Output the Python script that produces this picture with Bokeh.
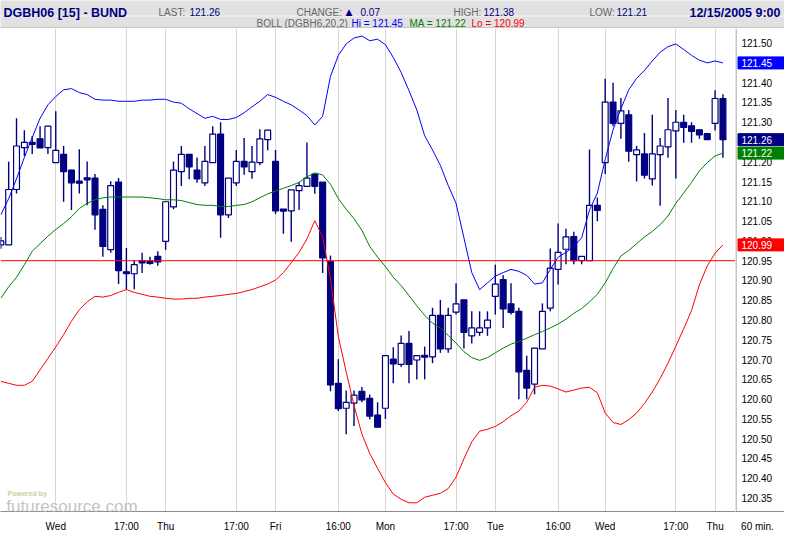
from bokeh.plotting import figure
from bokeh.models import Range1d, FixedTicker, Label, Span, ColumnDataSource
from bokeh.layouts import column, row
from bokeh.embed import file_html
from bokeh.resources import INLINE
from bokeh.core.properties import value

# ---------------- data ----------------
symbol = "DGBH06 [15] - BUND"
timestamp = "12/15/2005 9:00"
change_value = 0.07
day_start_bar = 91

opens = [120.99, 120.99, 121.13, 121.236, 121.248, 121.258, 121.236, 121.198, 121.219, 121.179,
         121.150, 121.158, 121.159, 121.080, 120.978, 121.149, 120.921, 120.917, 120.948, 120.947,
         120.961, 120.999, 121.086, 121.175, 121.219, 121.179, 121.147, 121.198, 121.270, 121.066,
         121.147, 121.201, 121.175, 121.198, 121.256, 121.201, 121.080, 121.076, 121.127, 121.138,
         121.169, 121.149, 120.948, 120.640, 120.577, 120.590, 120.620, 120.602, 120.560, 120.577,
         120.701, 120.688, 120.741, 120.699, 120.710, 120.707, 120.812, 120.727, 120.820, 120.851,
         120.760, 120.769, 120.780, 120.860, 120.902, 120.841, 120.822, 120.673, 120.638, 120.727,
         120.830, 120.928, 120.979, 121.011, 120.950, 120.950, 121.090, 121.198, 121.351, 121.297,
         121.319, 121.218, 121.220, 121.157, 121.218, 121.238, 121.278, 121.300, 121.291, 121.281,
         121.271, 121.297, 121.360]
highs = [121.01, 121.20, 121.31, 121.28, 121.265, 121.29, 121.29, 121.328, 121.240, 121.18,
         121.232, 121.201, 121.169, 121.09, 121.151, 121.159, 120.982, 120.95, 120.970, 120.96,
         120.974, 121.10, 121.201, 121.240, 121.219, 121.211, 121.240, 121.290, 121.300, 121.159,
         121.230, 121.260, 121.240, 121.282, 121.280, 121.230, 121.080, 121.129, 121.149, 121.249,
         121.169, 121.149, 120.963, 120.701, 120.622, 120.622, 120.631, 120.612, 120.592, 120.710,
         120.731, 120.761, 120.772, 120.710, 120.733, 120.831, 120.851, 120.831, 120.893, 120.851,
         120.822, 120.822, 120.822, 120.940, 120.913, 120.893, 120.831, 120.710, 120.729, 120.842,
         120.981, 121.044, 121.031, 121.023, 120.961, 121.231, 121.11, 121.410, 121.400, 121.361,
         121.331, 121.240, 121.273, 121.319, 121.260, 121.361, 121.331, 121.319, 121.300, 121.281,
         121.271, 121.381, 121.371]
lows = [120.98, 120.99, 121.12, 121.215, 121.22, 121.235, 121.22, 121.198, 121.099, 121.078,
        121.120, 121.090, 121.028, 120.96, 120.970, 120.891, 120.877, 120.878, 120.919, 120.94,
        120.937, 120.978, 121.08, 121.139, 121.156, 121.147, 121.139, 121.198, 121.008, 121.058,
        121.139, 121.167, 121.157, 121.191, 121.229, 121.068, 121.018, 120.998, 121.078, 121.138,
        121.119, 120.919, 120.620, 120.570, 120.511, 120.532, 120.592, 120.549, 120.529, 120.550,
        120.640, 120.681, 120.640, 120.650, 120.650, 120.691, 120.717, 120.717, 120.814, 120.728,
        120.741, 120.760, 120.760, 120.814, 120.780, 120.814, 120.600, 120.600, 120.612, 120.727,
        120.822, 120.890, 120.941, 120.941, 120.941, 120.950, 121.050, 121.169, 121.29, 121.258,
        121.200, 121.150, 121.158, 121.140, 121.089, 121.210, 121.158, 121.248, 121.248, 121.258,
        121.256, 121.279, 121.210]
closes = [121.00, 121.13, 121.24, 121.249, 121.245, 121.235, 121.29, 121.229, 121.175, 121.147,
          121.147, 121.156, 121.066, 120.986, 121.140, 120.925, 120.918, 120.940, 120.946, 120.945,
          120.947, 121.099, 121.179, 121.219, 121.187, 121.157, 121.201, 121.270, 121.066, 121.159,
          121.201, 121.187, 121.199, 121.258, 121.280, 121.076, 121.076, 121.129, 121.140, 121.159,
          121.138, 120.957, 120.636, 120.576, 120.592, 120.610, 120.598, 120.557, 120.529, 120.710,
          120.689, 120.741, 120.688, 120.710, 120.707, 120.812, 120.727, 120.812, 120.841, 120.769,
          120.780, 120.780, 120.800, 120.891, 120.828, 120.819, 120.669, 120.628, 120.729, 120.822,
          120.931, 120.971, 121.010, 120.950, 120.961, 121.090, 121.077, 121.351, 121.297, 121.329,
          121.227, 121.230, 121.166, 121.220, 121.240, 121.281, 121.300, 121.287, 121.277, 121.268,
          121.256, 121.360, 121.256]

boll_hi = [121.066, 121.107, 121.157, 121.211, 121.261, 121.310, 121.344, 121.365, 121.382, 121.385,
           121.375, 121.370, 121.358, 121.356, 121.356, 121.353, 121.353, 121.353, 121.356, 121.356,
           121.358, 121.358, 121.351, 121.348, 121.334, 121.322, 121.310, 121.315, 121.307, 121.307,
           121.312, 121.324, 121.339, 121.353, 121.370, 121.363, 121.353, 121.344, 121.331, 121.317,
           121.293, 121.315, 121.416, 121.469, 121.498, 121.513, 121.518, 121.506, 121.510, 121.496,
           121.464, 121.426, 121.380, 121.331, 121.266, 121.230, 121.191, 121.140, 121.095, 121.008,
           120.920, 120.877, 120.894, 120.911, 120.920, 120.928, 120.923, 120.913, 120.891, 120.894,
           120.928, 120.959, 120.971, 120.986, 121.008, 121.078, 121.121, 121.206, 121.281, 121.334,
           121.382, 121.411, 121.431, 121.455, 121.477, 121.491, 121.498, 121.484, 121.469, 121.457,
           121.450, 121.455, 121.450]
boll_ma = [120.855, 120.884, 120.908, 120.940, 120.974, 120.993, 121.012, 121.029, 121.044, 121.061,
           121.082, 121.095, 121.104, 121.109, 121.111, 121.111, 121.111, 121.111, 121.111, 121.109,
           121.107, 121.104, 121.104, 121.102, 121.097, 121.092, 121.090, 121.090, 121.087, 121.087,
           121.090, 121.092, 121.099, 121.109, 121.119, 121.126, 121.133, 121.140, 121.148, 121.162,
           121.172, 121.167, 121.143, 121.107, 121.080, 121.056, 121.027, 120.986, 120.959, 120.935,
           120.908, 120.887, 120.862, 120.836, 120.812, 120.792, 120.780, 120.761, 120.742, 120.720,
           120.705, 120.698, 120.705, 120.717, 120.729, 120.739, 120.746, 120.754, 120.763, 120.771,
           120.780, 120.790, 120.802, 120.817, 120.829, 120.846, 120.865, 120.894, 120.930, 120.962,
           120.976, 120.993, 121.010, 121.024, 121.041, 121.063, 121.095, 121.121, 121.148, 121.177,
           121.198, 121.215, 121.222]
boll_lo = [120.645, 120.640, 120.635, 120.635, 120.645, 120.674, 120.703, 120.732, 120.763, 120.797,
           120.826, 120.846, 120.860, 120.858, 120.862, 120.870, 120.877, 120.870, 120.865, 120.860,
           120.858, 120.855, 120.853, 120.853, 120.855, 120.855, 120.858, 120.860, 120.862, 120.865,
           120.867, 120.872, 120.877, 120.884, 120.891, 120.901, 120.920, 120.945, 120.971, 121.005,
           121.051, 121.010, 120.904, 120.758, 120.669, 120.584, 120.512, 120.463, 120.425, 120.389,
           120.360, 120.347, 120.338, 120.338, 120.352, 120.357, 120.362, 120.374, 120.403, 120.449,
           120.492, 120.519, 120.524, 120.531, 120.543, 120.558, 120.570, 120.592, 120.630, 120.635,
           120.633, 120.626, 120.618, 120.623, 120.628, 120.630, 120.616, 120.565, 120.541, 120.536,
           120.548, 120.565, 120.589, 120.618, 120.652, 120.691, 120.734, 120.778, 120.824, 120.889,
           120.937, 120.969, 120.990]

x_tick_bars = [7, 16, 21, 30, 35, 43, 49, 58, 63, 71, 77, 86, 91]
x_tick_labels = ["Wed", "17:00", "Thu", "17:00", "Fri", "16:00", "Mon", "17:00", "Tue", "16:00", "Wed", "17:00", "Thu"]
y_ticks = [120.35, 120.40, 120.45, 120.50, 120.55, 120.60, 120.65, 120.70, 120.75, 120.80, 120.85, 120.90,
           120.95, 121.00, 121.05, 121.10, 121.15, 121.20, 121.25, 121.30, 121.35, 121.40, 121.45, 121.50]
ref_level = 120.95
interval_label = "60 min."

# ---------------- styles ----------------
NAVY = "#000080"
BLUE = "#0000ff"
GREEN = "#008000"
RED = "#ff0000"
GRAY_TXT = "#666666"
HEAD_BG = "#e1e1e1"
GRID = "#d6d6d6"
AXIS = "#8c8c8c"
FONT = "Liberation Sans"
W = 784
MAIN_W = 735
SIDE_W = W - MAIN_W
HEAD_H = 28
MAIN_H = 506
BOTTOM = 17

bars = list(range(len(opens)))
tops, bottoms, fills = [], [], []
for o, c in zip(opens, closes):
    t, b = max(o, c), min(o, c)
    if t - b < 0.005:
        m = (t + b) / 2
        t, b = m + 0.0025, m - 0.0025
    tops.append(t)
    bottoms.append(b)
    fills.append("white" if c > o else NAVY)

src = ColumnDataSource(dict(x=bars, high=highs, low=lows, top=tops, bottom=bottoms, fill=fills,
                            hi=boll_hi, ma=boll_ma, lo=boll_lo))

y_range = Range1d(120.316, 121.537)

# ---------------- header ----------------
h = figure(width=W, height=HEAD_H, x_range=Range1d(0, W), y_range=Range1d(HEAD_H, 0), title=None,
           toolbar_location=None, output_backend="svg", x_axis_type=None, y_axis_type=None,
           min_border=0)
h.grid.visible = False
h.background_fill_color = HEAD_BG
h.border_fill_color = HEAD_BG
h.outline_line_color = None
h.add_layout(Span(location=15.5, dimension="width", line_color="#f6f6f6", line_width=1))
h.add_layout(Span(location=27.5, dimension="width", line_color="#a8a8a8", line_width=1))


def htext(x, y, text, color, size="10px", bold=False, align="left", font=FONT):
    h.add_layout(Label(x=x, y=y, text=text, text_color=color, text_font=font,
                       text_font_size=size, text_font_style="bold" if bold else "normal",
                       text_align=align, text_baseline="alphabetic"))


day_high = max(highs[day_start_bar:])
day_low = min(lows[day_start_bar:])
htext(3, 12, symbol, NAVY, size="12.5px", bold=True)
htext(158, 11.5, "LAST:", GRAY_TXT)
htext(189, 11.5, f"{closes[-1]:.2f}", NAVY)
htext(296, 11.5, "CHANGE:", GRAY_TXT)
htext(345, 11.5, "\u25B2", NAVY, size="9px", font="DejaVu Sans")
htext(360, 11.5, f"{change_value:.2f}", NAVY)
htext(453, 11.5, "HIGH:", GRAY_TXT)
htext(483, 11.5, f"{day_high:.2f}", NAVY)
htext(589, 11.5, "LOW:", GRAY_TXT)
htext(616, 11.5, f"{day_low:.2f}", NAVY)
htext(780, 12, timestamp, NAVY, size="12.5px", bold=True, align="right")
htext(256, 23, "BOLL (DGBH6,20,2)", GRAY_TXT)
htext(351, 23, f"Hi = {boll_hi[-1]:.2f}", BLUE)
htext(409, 23, f"MA = {boll_ma[-1]:.2f}", GREEN)
htext(471, 23, f"Lo = {boll_lo[-1]:.2f}", RED)

# ---------------- main chart ----------------
p = figure(width=MAIN_W, height=MAIN_H, x_range=Range1d(-0.04, 93.6), y_range=y_range, title=None,
           toolbar_location=None, output_backend="svg", y_axis_type=None,
           min_border_left=0, min_border_right=0, min_border_top=0, min_border_bottom=BOTTOM)
p.background_fill_color = "white"
p.border_fill_color = "white"
p.outline_line_color = None

p.xaxis.ticker = FixedTicker(ticks=x_tick_bars)
p.xaxis.major_label_overrides = {b: lab for b, lab in zip(x_tick_bars, x_tick_labels)}
p.xaxis.major_tick_line_color = None
p.xaxis.minor_tick_line_color = None
p.xaxis.axis_line_color = AXIS
p.xaxis.major_label_standoff = 3
p.xaxis.major_label_text_font = FONT
p.xaxis.major_label_text_font_size = "10px"
p.xaxis.major_label_text_color = "black"

p.xgrid.grid_line_color = GRID
p.ygrid.grid_line_color = GRID
p.ygrid.ticker = FixedTicker(ticks=y_ticks)

# candles
p.segment(x0="x", y0="low", x1="x", y1="high", source=src, line_color=NAVY, line_width=1.4)
p.vbar(x="x", top="top", bottom="bottom", width=0.75, source=src, fill_color="fill",
       line_color=NAVY, line_width=1.2)

# Bollinger bands
p.line("x", "hi", source=src, line_color=BLUE, line_width=1)
p.line("x", "ma", source=src, line_color=GREEN, line_width=1)
p.line("x", "lo", source=src, line_color=RED, line_width=1)

p.add_layout(Span(location=ref_level, dimension="width", line_color=RED, line_width=1))

# watermark
p.add_layout(Label(x=0.85, y=120.362, text="Powered by", text_color="#c5d2a0", text_font=FONT,
                   text_font_size="7px", text_font_style="bold", text_baseline="alphabetic"))
p.add_layout(Label(x=0.7, y=120.328, text="futuresource.com", text_color="#c4c4c4", text_font=FONT,
                   text_font_size="17px", text_baseline="alphabetic"))

# ---------------- price scale panel ----------------
s = figure(width=SIDE_W, height=MAIN_H, x_range=Range1d(0, SIDE_W), y_range=y_range, title=None,
           toolbar_location=None, output_backend="svg", y_axis_type=None,
           min_border_left=0, min_border_right=0, min_border_top=0, min_border_bottom=BOTTOM)
s.grid.visible = False
s.background_fill_color = "white"
s.border_fill_color = "white"
s.outline_line_color = None
s.xaxis.ticker = FixedTicker(ticks=[22])
s.xaxis.major_label_overrides = {22: interval_label}
s.xaxis.major_tick_line_color = None
s.xaxis.minor_tick_line_color = None
s.xaxis.axis_line_color = AXIS
s.xaxis.major_label_standoff = 3
s.xaxis.major_label_text_font = FONT
s.xaxis.major_label_text_font_size = "10px"
s.xaxis.major_label_text_color = "black"
s.add_layout(Span(location=0.5, dimension="height", line_color=AXIS, line_width=1))

tick_src = ColumnDataSource(dict(y=y_ticks, label=[f"{t:.2f}" for t in y_ticks]))
s.text(x=6, y="y", text="label", source=tick_src, text_font=value(FONT), text_font_size=value("10px"),
       text_color="black", text_baseline="middle", text_align="left")

box_vals = [boll_hi[-1], closes[-1], boll_ma[-1], boll_lo[-1]]
box_src = ColumnDataSource(dict(y=box_vals, label=[f"{v:.2f}" for v in box_vals],
                                color=[BLUE, NAVY, GREEN, RED]))
s.rect(x=25.5, y="y", width=46, height=12, height_units="screen", source=box_src,
       fill_color="color", line_color="color")
s.text(x=6, y="y", text="label", source=box_src, text_font=value(FONT), text_font_size=value("10px"),
       text_color="white", text_baseline="middle", text_align="left")

layout = column(h, row(p, s, spacing=0), spacing=0)
open("out.html", "w").write(file_html(layout, INLINE))
